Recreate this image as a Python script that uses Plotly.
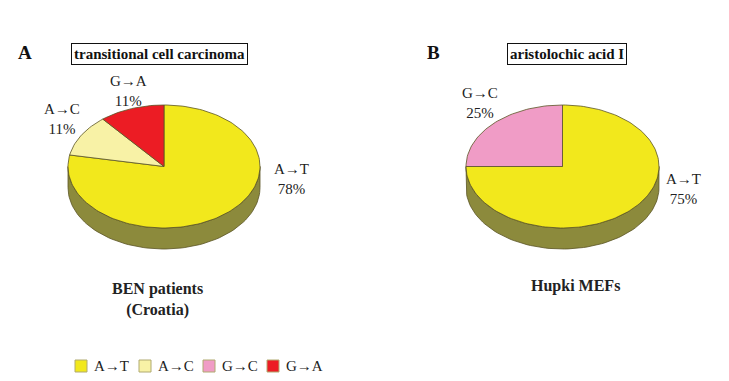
import numpy as np
import plotly.graph_objects as go

# ---- data ----
categories = ["A→T", "A→C", "G→C", "G→A"]
colors = {"A→T": "#f2e81c", "A→C": "#f8f2a6", "G→C": "#f09cc6", "G→A": "#ec1c24"}
side_colors = {"A→T": "#8c8a3c", "A→C": "#8f8a5c", "G→C": "#8a5a70", "G→A": "#8a1418"}

pieA_labels = ["A→T", "A→C", "G→A"]
pieA_values = [78, 11, 11]
pieB_labels = ["A→T", "G→C"]
pieB_values = [75, 25]

panel_letters = ["A", "B"]
panel_titles = ["transitional cell carcinoma", "aristolochic acid I"]
panel_captions = ["BEN patients<br>(Croatia)", "Hupki MEFs"]

# ---- layout geometry (pixels) ----
W, H = 729, 381
FONT = "Liberation Serif"
EDGE = "#5a5424"
pies = [
    dict(cx=164, cy=166.5, rx=96, ry=61.5, depth=21, labels=pieA_labels, values=pieA_values,
         label_pos={"A→T": (291, 179), "A→C": (62, 119), "G→A": (128, 91)}),
    dict(cx=562.5, cy=166.5, rx=96.5, ry=61.5, depth=21, labels=pieB_labels, values=pieB_values,
         label_pos={"A→T": (683, 189), "G→C": (480, 103)}),
]

fig = go.Figure()


def pt(p, th, dy=0.0):
    return p["cx"] + p["rx"] * np.sin(th), p["cy"] - p["ry"] * np.cos(th) + dy


annotations = []
shapes = []
for p in pies:
    total = float(sum(p["values"]))
    bounds = np.concatenate([[0], np.cumsum(p["values"])]) / total * 2 * np.pi
    # side (front half: 90..270 deg)
    for lab, a0, a1 in zip(p["labels"], bounds[:-1], bounds[1:]):
        s0, s1 = max(a0, np.pi / 2), min(a1, 3 * np.pi / 2)
        if s1 <= s0:
            continue
        t = np.linspace(s0, s1, 80)
        xt, yt = pt(p, t)
        xb, yb = pt(p, t[::-1], p["depth"])
        fig.add_trace(go.Scatter(
            x=np.concatenate([xt, xb, xt[:1]]), y=np.concatenate([yt, yb, yt[:1]]),
            mode="lines", fill="toself", fillcolor=side_colors[lab],
            line=dict(color=EDGE, width=0.8), hoverinfo="skip", showlegend=False))
    # top faces
    for lab, v, a0, a1 in zip(p["labels"], p["values"], bounds[:-1], bounds[1:]):
        t = np.linspace(a0, a1, max(int(200 * (a1 - a0) / (2 * np.pi)), 4))
        xa, ya = pt(p, t)
        fig.add_trace(go.Scatter(
            x=np.concatenate([[p["cx"]], xa, [p["cx"]]]),
            y=np.concatenate([[p["cy"]], ya, [p["cy"]]]),
            mode="lines", fill="toself", fillcolor=colors[lab],
            line=dict(color=EDGE, width=0.8), name=lab,
            hovertemplate=f"{lab}: {v}%<extra></extra>", showlegend=False))
        lx, ly = p["label_pos"][lab]
        annotations.append(dict(x=lx, y=ly, text=f"{lab}<br>{v}%", showarrow=False,
                                font=dict(family=FONT, size=15, color="#222"),
                                xanchor="center", yanchor="middle", align="center"))

# legend (keys + labels)
LEG_X0, LEG_DX, LEG_Y = 75, 64, 366
for i, c in enumerate(categories):
    x0 = LEG_X0 + LEG_DX * i
    shapes.append(dict(type="rect", xref="x", yref="y", x0=x0, x1=x0 + 12,
                       y0=LEG_Y - 6, y1=LEG_Y + 6, fillcolor=colors[c],
                       line=dict(color="#b0aa70", width=1)))
    annotations.append(dict(x=x0 + 17, y=LEG_Y, text=c, showarrow=False,
                            xanchor="left", yanchor="middle",
                            font=dict(family=FONT, size=15, color="#222")))

# panel letters, boxed titles, captions
for letter, lx in zip(panel_letters, [25, 433]):
    annotations.append(dict(x=lx, y=52, text=f"<b>{letter}</b>", showarrow=False,
                            font=dict(family=FONT, size=19, color="#111")))
for title, tx in zip(panel_titles, [159.5, 566.5]):
    annotations.append(dict(x=tx, y=54, text=f"<b>{title}</b>", showarrow=False,
                            font=dict(family=FONT, size=15, color="#111"),
                            bordercolor="#111", borderwidth=1, borderpad=2))
for cap, cx, cy in zip(panel_captions, [157.5, 575], [299, 286]):
    annotations.append(dict(x=cx, y=cy, text=f"<b>{cap}</b>", showarrow=False,
                            font=dict(family=FONT, size=16, color="#222"), align="center"))

fig.update_layout(
    width=W, height=H, margin=dict(l=0, r=0, t=0, b=0),
    paper_bgcolor="white", plot_bgcolor="white",
    xaxis=dict(range=[0, W], visible=False, fixedrange=True),
    yaxis=dict(range=[H, 0], visible=False, fixedrange=True),
    annotations=annotations, shapes=shapes,
    showlegend=False,
)

fig.write_html("out.html", config={"displayModeBar": False},
               post_script="document.body.style.margin='0px';")
